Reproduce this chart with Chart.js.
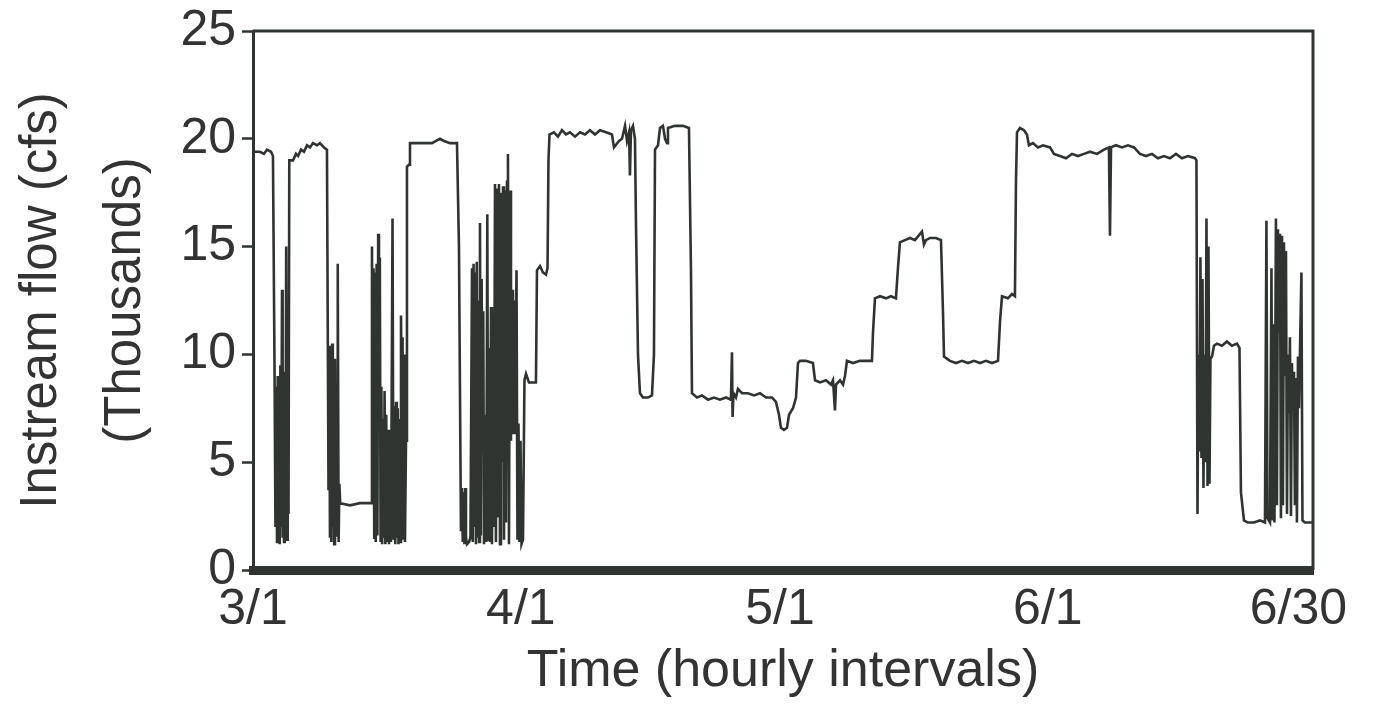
<!DOCTYPE html>
<html>
<head>
<meta charset="utf-8">
<title>Instream flow</title>
<script src="https://cdn.jsdelivr.net/npm/chart.js@4.4.1/dist/chart.umd.min.js"></script>
<style>
  html, body { margin: 0; padding: 0; background: #fff; }
  #wrap { width: 1377px; height: 707px; }
</style>
</head>
<body>
<div id="wrap"><canvas id="flow" width="1377" height="707"></canvas></div>
<script>
// flow readings: [day since 3/1, flow in thousand cfs]
var marchFlow = [
  [0.12,19.4],[0.81,19.4],[1.27,19.3],[1.62,19.5],[2.08,19.4],[2.31,19.2],[2.49,9.5],[2.60,2.0],
  [2.69,8.5],[2.78,1.3],[2.86,9.0],[2.94,1.6],[3.01,8.8],[3.09,1.2],[3.17,9.5],[3.26,2.0],[3.36,13.0],[3.43,1.5],
  [3.51,8.9],[3.59,1.3],[3.67,9.2],[3.75,1.8],[3.84,15.0],[3.94,1.4],[4.02,9.0],[4.11,2.6],[4.20,19.0],
  [4.63,19.0],[4.98,19.3],[5.21,19.2],[5.56,19.5],[5.90,19.4],[6.25,19.7],[6.60,19.6],[6.94,19.8],[7.41,19.7],
  [7.75,19.8],[8.22,19.6],[8.56,19.5],
  [8.74,3.7],[8.82,10.4],[8.91,1.5],[8.99,9.6],[9.07,1.3],[9.16,10.5],[9.24,2.0],[9.32,8.0],[9.40,1.2],[9.49,9.8],
  [9.57,3.8],[9.65,5.5],[9.73,1.6],[9.81,14.2],[9.91,1.3],[10.00,4.0],[10.09,3.1],
  [11.23,3.0],[12.38,3.1],[13.66,3.1],
  [13.77,15.0],[13.85,3.2],[13.95,14.0],[14.03,1.5],[14.12,13.8],[14.21,1.3],[14.31,14.2],[14.40,1.6],[14.49,15.6],
  [14.58,8.7],[14.68,14.5],[14.77,1.3],[14.86,8.5],[14.95,1.2],[15.05,7.0],[15.14,1.5],[15.23,8.3],[15.32,1.2],
  [15.42,7.2],[15.51,1.3],[15.63,6.5],[15.74,1.2],[15.86,5.0],[15.97,1.3],[16.15,16.3],[16.26,1.4],[16.38,7.6],
  [16.47,1.2],[16.56,7.8],[16.65,1.5],[16.75,7.5],[16.84,1.2],[16.94,7.0],[17.03,1.3],[17.13,11.8],[17.22,6.8],
  [17.31,10.8],[17.41,1.4],[17.50,10.0],[17.59,1.3],[17.71,6.0],[17.82,18.7],[18.06,18.8],[18.17,19.8],
  [19.33,19.8],[20.72,19.8],[21.18,19.9],[21.64,20.0],[22.11,19.9],[22.80,19.8],[23.61,19.8],[23.84,15.0],[24.07,1.8],
  [24.19,3.8],[24.28,1.3],[24.38,3.6],[24.47,1.2],[24.56,3.8],[24.65,1.5],[24.77,1.2],[25.00,1.3],[25.17,1.5],
  [25.35,14.0],[25.44,1.3],[25.53,14.2],[25.62,2.0],[25.72,13.8],[25.81,1.2],[25.90,14.3],[25.99,1.5],[26.09,12.5],
  [26.18,1.3],[26.27,16.1],[26.37,1.6],[26.46,13.5],[26.55,7.5],[26.65,12.0],[26.74,1.2],[26.91,7.2],[27.00,1.3],
  [27.12,16.5],[27.22,1.4],[27.31,10.3],[27.43,1.3],[27.55,12.2],[27.66,1.2],[27.78,9.8],[27.89,2.0],[28.01,17.9],
  [28.12,1.3],[28.24,17.7],[28.36,2.5],[28.47,17.9],[28.59,1.2],[28.70,17.5],[28.82,5.0],[28.94,17.8],[29.05,1.4],
  [29.17,17.6],[29.28,2.2],[29.40,18.0],[29.51,19.3],[29.63,1.2],[29.75,17.6],[29.86,6.0],[29.98,13.0],[30.09,6.3],
  [30.21,12.5],[30.32,6.3],[30.50,13.9],[30.61,1.4],[30.73,6.8],[30.84,1.3],[30.96,6.0]
];
var aprilFlow = [
  [31.08,1.2],[31.25,1.4],[31.42,8.8],[31.60,9.1],[31.94,8.7],[32.75,8.7],[32.87,13.9],[33.22,14.1],[33.56,13.8],
  [33.91,13.7],[34.09,14.0],[34.20,19.0],[34.32,20.2],[34.84,20.3],[35.30,20.1],[35.76,20.4],[36.23,20.2],[36.69,20.3],
  [37.27,20.1],[37.85,20.3],[38.43,20.2],[39.00,20.4],[39.58,20.2],[40.16,20.4],[40.86,20.3],[41.55,20.2],[41.78,19.6],
  [42.36,19.9],[42.71,20.0],[43.06,20.6],[43.29,19.9],[43.52,20.3],[43.63,18.3],[43.75,20.4],[43.98,20.6],[44.21,20.0],
  [44.33,16.0],[44.56,10.0],[44.79,8.2],[45.14,8.0],[45.72,8.0],[46.18,8.1],[46.41,10.0],[46.53,19.5],[46.88,19.7],
  [47.11,20.5],[47.45,20.6],[47.69,20.0],[47.92,19.8],[48.03,20.5],[48.84,20.6],[49.77,20.6],[50.46,20.5],[50.69,14.0],
  [50.81,8.2],[51.39,8.0],[51.97,8.1],[52.66,7.9],[53.36,8.0],[54.05,7.9],[54.75,8.0],[55.32,7.9],[55.44,10.1],
  [55.51,7.1],[55.61,8.2],[55.90,8.0],[56.13,8.4],[56.60,8.2],[57.29,8.2],[57.99,8.1],[58.68,8.2],[59.38,8.0],
  [60.07,8.0],[60.53,7.8],[60.88,7.2]
];
var mayFlow = [
  [61.11,6.6],[61.46,6.5],[61.81,6.6],[62.04,7.2],[62.50,7.5],[62.85,8.0],[63.08,9.6],[63.31,9.7],[64.00,9.7],
  [64.81,9.6],[65.05,8.8],[65.63,8.7],[66.32,8.8],[66.90,8.6],[67.13,8.8],[67.36,7.4],[67.48,8.6],[67.94,8.8],
  [68.29,8.6],[68.52,9.0],[68.75,9.7],[69.44,9.6],[70.25,9.7],[70.95,9.7],[71.64,9.7],[71.76,11.0],[71.99,12.6],
  [72.57,12.7],[73.26,12.6],[73.84,12.7],[74.42,12.6],[74.65,14.0],[74.88,15.2],[75.46,15.3],[76.04,15.4],[76.62,15.3],
  [77.43,15.7],[77.66,15.1],[77.89,15.3],[78.36,15.4],[79.05,15.4],[79.63,15.3],[79.86,12.0],[79.98,9.9],[80.67,9.7],
  [81.37,9.6],[82.06,9.7],[82.75,9.6],[83.45,9.7],[84.14,9.6],[84.84,9.7],[85.53,9.6],[86.23,9.7],[86.46,11.5],
  [86.69,12.7],[87.38,12.6],[87.85,12.8],[88.19,12.7],[88.31,18.0],[88.43,20.3],[88.77,20.5],[89.24,20.4],[89.58,20.2],
  [89.81,19.7],[90.28,19.8],[90.86,19.6],[91.44,19.7]
];
var juneFlow = [
  [92.25,19.6],[92.71,19.3],[93.40,19.2],[94.10,19.1],[94.79,19.3],[95.49,19.2],[96.18,19.3],[96.88,19.4],[97.69,19.3],
  [98.50,19.5],[99.07,19.6],[99.19,15.5],[99.31,19.6],[99.88,19.7],[100.58,19.6],[101.27,19.7],[101.97,19.6],
  [102.66,19.3],[103.36,19.2],[104.05,19.3],[104.75,19.1],[105.44,19.2],[106.13,19.1],[106.83,19.3],[107.52,19.1],
  [108.22,19.2],[109.03,19.1],[109.20,19.0],[109.32,2.6],
  [109.43,10.0],[109.55,5.5],[109.66,14.5],[109.78,5.2],[109.90,13.5],[110.01,3.8],[110.13,10.0],[110.24,5.0],
  [110.36,16.3],[110.48,3.9],[110.59,15.0],[110.71,4.0],[110.82,9.8],[111.00,9.9],[111.23,10.4],[111.57,10.5],
  [112.15,10.4],[112.73,10.6],[113.31,10.4],[113.89,10.5],[114.18,10.3],[114.35,3.6],[114.70,2.3],[115.16,2.2],
  [115.86,2.2],[116.55,2.3],[117.13,2.2],[117.30,16.2],[117.42,2.4],[117.71,2.2],[117.88,14.0],[118.00,2.3],
  [118.11,11.4],[118.23,2.2],[118.40,16.3],[118.52,3.0],[118.63,15.8],[118.75,11.0],[118.87,15.6],[118.98,2.4],
  [119.10,15.5],[119.21,3.0],[119.33,15.2],[119.44,9.0],[119.56,14.8],[119.68,2.6],[119.79,10.0],[119.91,7.3],
  [120.02,10.8],[120.14,2.5],[120.25,9.6],[120.37,7.4],[120.49,9.2],[120.60,3.0],[120.72,8.9],[120.83,2.2],
  [120.95,9.9],[121.06,7.5],[121.35,13.8],[121.47,2.3],[121.76,2.2],[122.22,2.2],[122.57,2.2]
];

var tickDays = [0, 31, 61, 92, 121];
var tickLabels = ['3/1', '4/1', '5/1', '6/1', '6/30'];
var yTicks = [0, 5, 10, 15, 20, 25];

var ink = '#2f3431';
var textInk = '#333';
var fontFam = "'Liberation Sans', Arial, Helvetica, sans-serif";

var points = marchFlow.concat(aprilFlow, mayFlow, juneFlow).map(function (p) {
  return { x: p[0], y: p[1] };
});

// top + right frame lines
var frame = {
  id: 'frame',
  afterDraw: function (chart) {
    var a = chart.chartArea, ctx = chart.ctx;
    ctx.save();
    ctx.strokeStyle = ink;
    ctx.lineWidth = 3;
    ctx.beginPath();
    ctx.moveTo(a.left, a.top);
    ctx.lineTo(a.right, a.top);
    ctx.lineTo(a.right, a.bottom);
    ctx.stroke();
    ctx.restore();
  }
};

new Chart(document.getElementById('flow'), {
  type: 'line',
  data: {
    datasets: [{
      data: points,
      borderColor: ink,
      borderWidth: 2.6,
      pointRadius: 0,
      tension: 0,
      fill: false
    }]
  },
  options: {
    responsive: false,
    animation: false,
    layout: { padding: { left: 0, top: 28, right: 64, bottom: 0 } },
    plugins: { legend: { display: false }, tooltip: { enabled: false } },
    scales: {
      x: {
        type: 'linear',
        min: 0,
        max: 122.69,
        afterFit: function (s) { s.height = 137; },
        afterBuildTicks: function (s) {
          s.ticks = tickDays.map(function (d) { return { value: d }; });
        },
        ticks: {
          autoSkip: false,
          maxRotation: 0,
          padding: 10,
          color: textInk,
          font: { family: fontFam, size: 50 },
          callback: function (v) {
            var i = tickDays.indexOf(v);
            return i >= 0 ? tickLabels[i] : '';
          }
        },
        grid: { drawOnChartArea: false, drawTicks: false, color: ink },
        border: { display: true, color: ink, width: 9 },
        title: {
          display: true,
          text: 'Time (hourly intervals)',
          color: textInk,
          font: { family: fontFam, size: 52 },
          padding: { top: 0, bottom: 4 }
        }
      },
      y: {
        min: 0,
        max: 25,
        afterFit: function (s) { s.width = 253; },
        afterBuildTicks: function (s) {
          s.ticks = yTicks.map(function (v) { return { value: v }; });
        },
        ticks: {
          padding: 6,
          color: textInk,
          font: { family: fontFam, size: 50, lineHeight: 1.0 }
        },
        grid: {
          drawOnChartArea: false,
          drawTicks: true,
          tickLength: 11,
          tickWidth: 2.5,
          tickColor: ink
        },
        border: { display: true, color: ink, width: 3 },
        title: {
          display: true,
          text: ['Instream flow (cfs)', '(Thousands)'],
          color: textInk,
          font: { family: fontFam, size: 51, lineHeight: 1.65 },
          padding: { top: 0, bottom: 0 }
        }
      }
    }
  },
  plugins: [frame]
});
</script>
</body>
</html>
